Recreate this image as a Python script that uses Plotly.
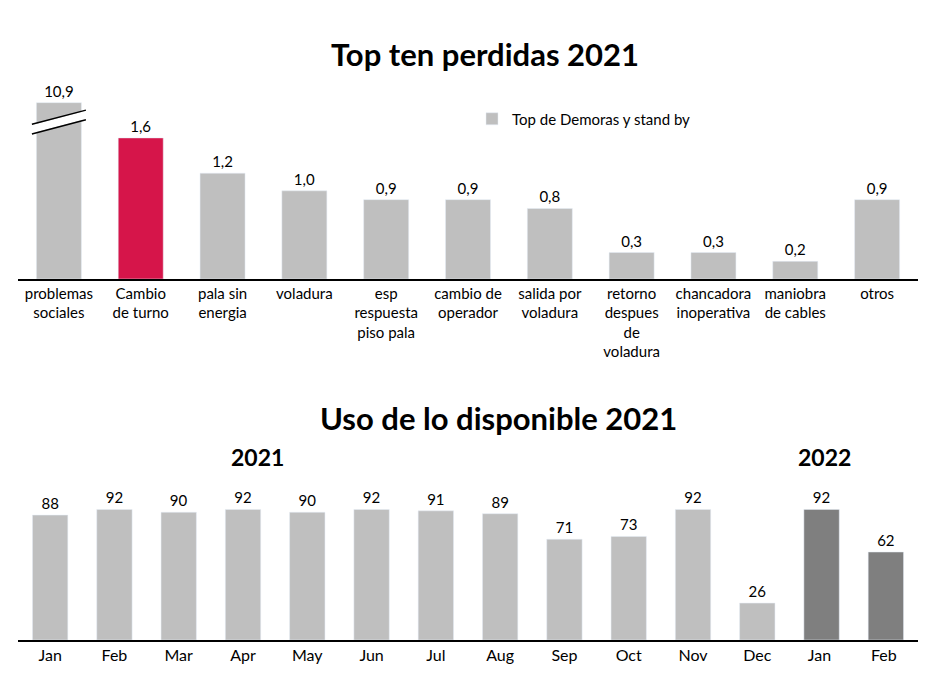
import plotly.graph_objects as go

# top chart data
causas = ["problemas<br>sociales", "Cambio<br>de turno", "pala sin<br>energia", "voladura",
          "esp<br>respuesta<br>piso pala", "cambio de<br>operador", "salida por<br>voladura",
          "retorno<br>despues<br>de<br>voladura", "chancadora<br>inoperativa",
          "maniobra<br>de cables", "otros"]
perdidas = [10.9, 1.6, 1.2, 1.0, 0.9, 0.9, 0.8, 0.3, 0.3, 0.2, 0.9]
altura_mostrada = [2.0, 1.6, 1.2, 1.0, 0.9, 0.9, 0.8, 0.3, 0.3, 0.2, 0.9]  # first bar is cut

# bottom chart data
meses = ["Jan", "Feb", "Mar", "Apr", "May", "Jun", "Jul", "Aug", "Sep", "Oct", "Nov", "Dec", "Jan ", "Feb "]
uso = [88, 92, 90, 92, 90, 92, 91, 89, 71, 73, 92, 26, 92, 62]

GREY = "#BFBFBF"
RED = "#D6154A"
DARK = "#7F7F7F"
FONT = "Lato"
W, H, OFF = 949, 688, 8  # page body margin offsets the figure


def px(x):
    return (x - OFF) / W


def py(y):
    return 1 - (y - OFF) / H


fig = go.Figure()

top_colors = [GREY] * len(causas)
top_colors[1] = RED
fig.add_trace(go.Bar(
    x=list(range(len(causas))), y=altura_mostrada, marker_color=top_colors,
    text=[f"{v:.1f}".replace(".", ",") for v in perdidas], textposition="outside",
    textfont=dict(size=15, color="black"), cliponaxis=False,
    showlegend=False, xaxis="x", yaxis="y",
))
# legend stand-in trace
fig.add_trace(go.Bar(x=[None], y=[None], marker_color=GREY,
                     name="Top de Demoras y stand by", xaxis="x", yaxis="y"))

bot_colors = [GREY] * 12 + [DARK] * 2
fig.add_trace(go.Bar(
    x=list(range(len(meses))), y=uso, marker_color=bot_colors,
    text=[str(v) for v in uso], textposition="outside",
    textfont=dict(size=15, color="black"), cliponaxis=False,
    showlegend=False, xaxis="x2", yaxis="y2",
))

# axis break marks on the first bar
for dy, col, w in [(0, "white", 8), (0.055, "black", 1.5), (-0.055, "black", 1.5)]:
    fig.add_shape(type="line", xref="x", yref="y", x0=-0.33, x1=0.33,
                  y0=1.70 + dy, y1=1.86 + dy, line=dict(color=col, width=w))

fig.update_layout(
    width=W, height=H, margin=dict(l=0, r=0, t=0, b=0),
    paper_bgcolor="white", plot_bgcolor="white",
    font=dict(family=FONT, size=15, color="black"),
    bargap=0.45,
    showlegend=True,
    legend=dict(x=px(472), y=py(119), xanchor="left", yanchor="middle",
                font=dict(size=15), bgcolor="rgba(0,0,0,0)"),
    xaxis=dict(domain=[px(18), px(918)], range=[-0.5, 10.5], tickmode="array",
               tickvals=list(range(len(causas))), ticktext=causas,
               showline=True, linecolor="black", linewidth=1.5, ticks="",
               showgrid=False, tickfont=dict(size=15)),
    yaxis=dict(domain=[py(279), py(85)], range=[0, 2.2], visible=False),
    xaxis2=dict(domain=[px(18), px(918)], range=[-0.5, 13.5], tickmode="array",
                tickvals=list(range(len(meses))), ticktext=meses,
                showline=True, linecolor="black", linewidth=1.5, ticks="",
                showgrid=False, tickfont=dict(size=16), anchor="y2"),
    yaxis2=dict(domain=[py(640), py(491)], range=[0, 105], visible=False, anchor="x2"),
    annotations=[
        dict(text="<b>Top ten perdidas 2021</b>", x=px(485), y=py(33), xref="paper", yref="paper",
             showarrow=False, font=dict(size=31)),
        dict(text="<b>Uso de lo disponible 2021</b>", x=px(498), y=py(418), xref="paper", yref="paper",
             showarrow=False, font=dict(size=31)),
        dict(text="<b>2021</b>", x=px(229), y=py(457), xref="paper", yref="paper",
             showarrow=False, font=dict(size=23)),
        dict(text="<b>2022</b>", x=px(853), y=py(457), xref="paper", yref="paper",
             showarrow=False, font=dict(size=23)),
    ],
)

fig.write_html("out.html")
